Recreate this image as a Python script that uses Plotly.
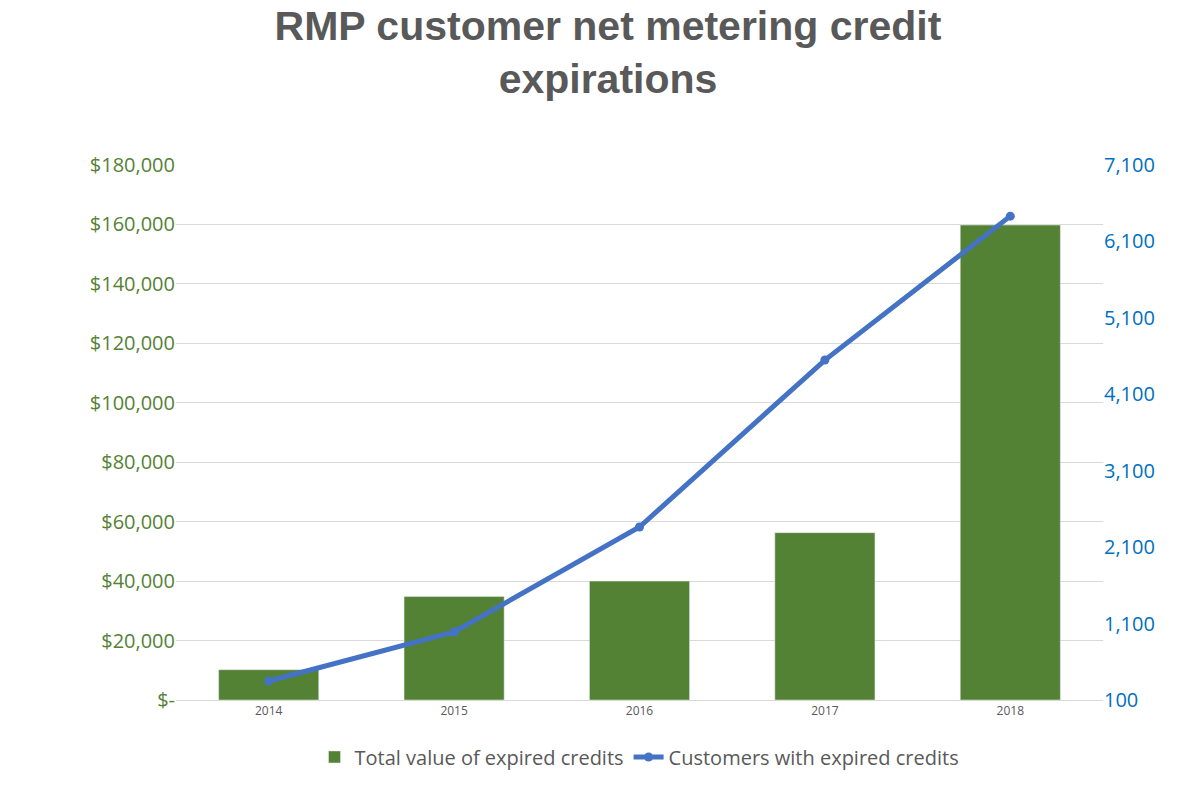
import plotly.graph_objects as go

years = ["2014", "2015", "2016", "2017", "2018"]
value_expired = [10200, 34800, 40000, 56300, 159800]
customers_expired = [349, 990, 2363, 4548, 6431]
left_ticks = [0, 20000, 40000, 60000, 80000, 100000, 120000, 140000, 160000, 180000]
left_labels = ["$-"] + [f"${v:,}" for v in left_ticks[1:]]
right_ticks = [100, 1100, 2100, 3100, 4100, 5100, 6100, 7100]

fig = go.Figure()
fig.add_trace(go.Bar(x=years, y=value_expired, name="Total value of expired credits",
                     marker_color="#548235", width=0.54))
fig.add_trace(go.Scatter(x=years, y=customers_expired, name="Customers with expired credits",
                         yaxis="y2", mode="lines+markers",
                         line=dict(color="#4472C4", width=5), marker=dict(size=9, color="#4472C4")))

fig.update_layout(
    width=1200, height=797,
    paper_bgcolor="white", plot_bgcolor="white",
    font=dict(family="Open Sans, Liberation Sans, sans-serif"),
    title=dict(text="<b>RMP customer net metering credit<br>expirations</b>", x=0.5, y=0.96,
               xanchor="center", yanchor="top",
               font=dict(size=41, color="#595959", family="Liberation Sans, Arial, sans-serif")),
    margin=dict(l=168, r=105, t=157, b=105),
    xaxis=dict(tickfont=dict(size=12, color="#595959"), showline=True, linecolor="#d9d9d9",
               ticks=""),
    yaxis=dict(range=[0, 180000], tickvals=left_ticks, ticktext=left_labels,
               tickfont=dict(size=20, color="#548235"), gridcolor="#d9d9d9", zeroline=False),
    yaxis2=dict(range=[100, 7100], tickvals=right_ticks, tickformat=",",
                overlaying="y", side="right", showgrid=False,
                tickfont=dict(size=20, color="#0070C0"), zeroline=False),
    legend=dict(orientation="h", x=0.5, xanchor="center", y=-0.07, yanchor="top",
                font=dict(size=20, color="#595959")),
    bargap=0.46,
)
fig.write_html("out.html")
